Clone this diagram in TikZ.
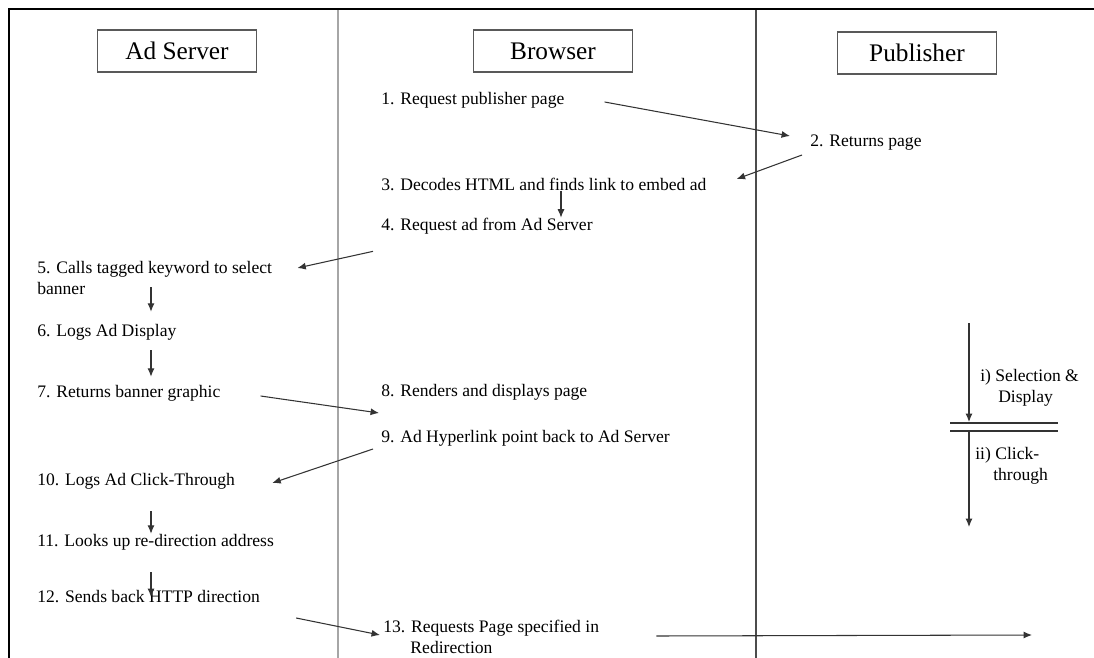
\documentclass[tikz,border=0pt]{standalone}
\usepackage{fontspec}
\setmainfont{Liberation Serif}
\usetikzlibrary{arrows.meta,calc}

\begin{document}
\begin{tikzpicture}[x=0.025cm,y=-0.025cm,
  actor/.style={draw=gray!70!black,line width=1pt,minimum width=3.975cm,minimum height=1.05cm,inner sep=0pt,font=\fontsize{18}{20}\selectfont},
  msg/.style={anchor=west,inner sep=0pt,align=left,font=\fontsize{12.5}{15}\selectfont},
  flow/.style={-{Latex[length=6pt,width=5pt]},draw=black!80,line width=0.75pt},
  lane/.style={line width=1.5pt}]
  \useasboundingbox (0,0) rectangle (1094,658);

  \draw[line width=2pt] (9,658) -- (9,9) -- (1094,9);
  \draw[lane,gray!70] (338,10) -- (338,658);
  \draw[lane,gray!60!black] (756,10) -- (756,658);

  \node[actor] (adserver) at (177,51) {Ad Server};
  \node[actor] (browser) at (553,51) {Browser};
  \node[actor] (publisher) at (917,53) {Publisher};

  \node[msg] (m1) at (381,100) {1. Request publisher page};
  \node[msg] (m2) at (810,143) {2. Returns page};
  \node[msg] (m3) at (381,184) {3. Decodes HTML and finds link to embed ad};
  \node[msg] (m4) at (381,226) {4. Request ad from Ad Server};
  \node[msg] (m5) at (37,278) {5. Calls tagged keyword to select\\banner};
  \node[msg] (m6) at (37,332) {6. Logs Ad Display};
  \node[msg] (m7) at (37,393) {7. Returns banner graphic};
  \node[msg] (m8) at (381,392) {8. Renders and displays page};
  \node[msg] (m9) at (381,438) {9. Ad Hyperlink point back to Ad Server};
  \node[msg] (m10) at (37,481) {10. Logs Ad Click-Through};
  \node[msg] (m11) at (37,542) {11. Looks up re-direction address};
  \node[msg] (m12) at (37,597) {12. Sends back HTTP direction};
  \node[msg] (m13) at (383,637) {13. Requests Page specified in\\\hspace*{0.68cm}Redirection};

  \node[msg] (sel) at (980,388) {i) Selection \&\\\hspace*{0.45cm}Display};
  \node[msg] (click) at (975,466) {ii) Click-\\\hspace*{0.45cm}through};

  \coordinate (pubend) at (1032,635);
  \coordinate (phase1) at (969,323);
  \coordinate (phase1end) at (969,422);
  \coordinate (phase2) at (969,431);
  \coordinate (phase2end) at (969,527);

  \draw[flow] ($(m1.east)+(40,2)$) -- ($(m2.west)+(-20,-7)$);
  \draw[flow] ($(m2.west)+(-8,12)$) -- ($(m3.east)+(30,-5)$);
  \draw[flow] (561,0 |- m3.south) -- (561,0 |- m4.north);
  \draw[flow] ($(m4.south west)+(-8,17)$) -- ($(m5.east)+(25,-10)$);
  \draw[flow] ($(151,0 |- m5.south)+(0,-8)$) -- ($(151,0 |- m6.north)+(0,-12)$);
  \draw[flow] ($(151,0 |- m6.south)+(0,10)$) -- ($(151,0 |- m7.north)+(0,-8)$);
  \draw[flow] ($(m7.east)+(40,3)$) -- ($(m8.west)+(-2,21)$);
  \draw[flow] ($(m9.west)+(-8,11)$) -- ($(m10.east)+(37,2)$);
  \draw[flow] ($(151,0 |- m10.south)+(0,22)$) -- (151,0 |- m11.north);
  \draw[flow] ($(151,0 |- m11.south)+(0,22)$) -- (151,0 |- m12.west);
  \draw[flow] ($(m12.east)+(36,21)$) -- ($(m13.west)+(-3,-2)$);
  \draw[flow] ($(m13.east)+(57,-1)$) -- (pubend);

  \draw[flow,draw=gray!40!black] (phase1) -- (phase1end);
  \draw[flow,draw=gray!40!black] (phase2) -- (phase2end);
  \draw[gray!40!black,line width=0.8pt] (950,423) -- (1058,423) (950,431) -- (1058,431);
\end{tikzpicture}
\end{document}
